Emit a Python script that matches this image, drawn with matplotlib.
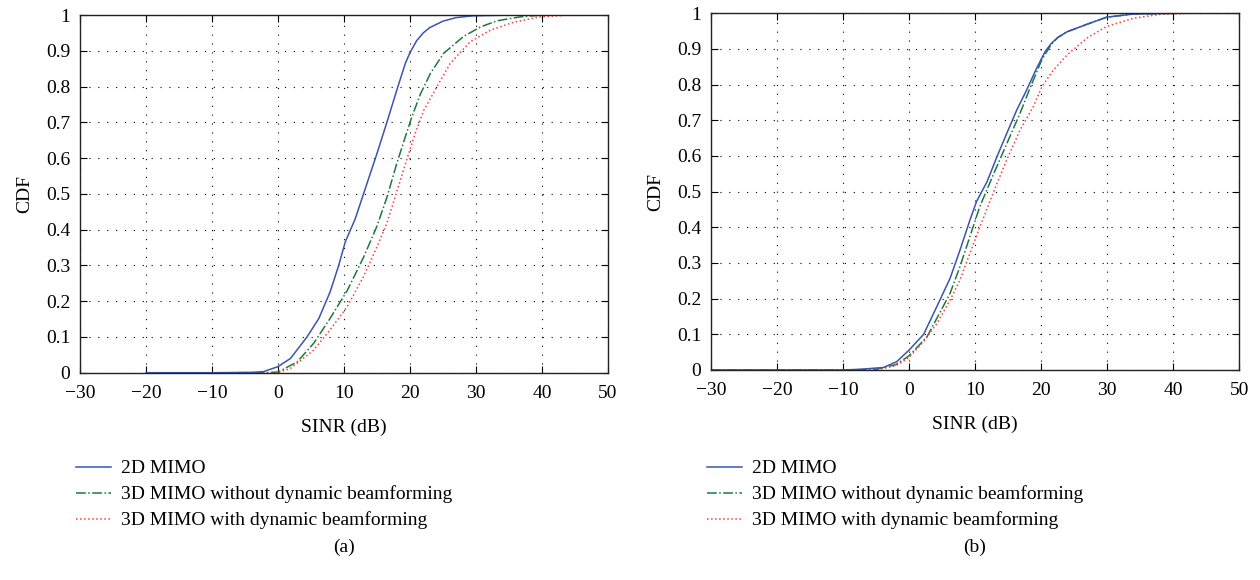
import matplotlib.pyplot as plt
import numpy as np

plt.rcParams['font.family'] = ['Liberation Serif', 'DejaVu Serif']
plt.rcParams['axes.unicode_minus'] = True

# Data -----------------------------------------------------------
labels = ['2D MIMO', '3D MIMO without dynamic beamforming', '3D MIMO with dynamic beamforming']

# panel (a)
a_2d_x = [-20, -10, -4, -2.2, 0, 1.9, 4.4, 6.2, 7.9, 9.2, 10.2, 11.7, 13.5, 15, 16.5, 18, 19.3, 20.0, 21.0, 22.0, 23.0, 25.0, 27.0, 29.6, 35, 50]
a_2d_y = [0, 0, 0.001, 0.003, 0.017, 0.04, 0.10, 0.152, 0.226, 0.30, 0.366, 0.43, 0.53, 0.613, 0.70, 0.79, 0.865, 0.895, 0.928, 0.950, 0.965, 0.983, 0.993, 0.998, 1.0, 1.0]
a_3d_x = [-6, -2, 0, 2.9, 5.4, 7.9, 10.5, 13, 15, 16.5, 18, 19.3, 20.3, 21.6, 23.1, 25.1, 28.1, 30.7, 33.2, 36.7, 40, 50]
a_3d_y = [0, 0, 0.002, 0.03, 0.082, 0.152, 0.23, 0.324, 0.41, 0.49, 0.585, 0.66, 0.716, 0.78, 0.837, 0.893, 0.94, 0.967, 0.984, 0.995, 1.0, 1.0]
a_bf_x = [-6, 0, 1.9, 5.4, 7.9, 10.5, 13, 15, 16.5, 18, 19.5, 20.8, 22.1, 24.1, 26.1, 29.1, 32.2, 35.7, 39.7, 44, 50]
a_bf_y = [0, 0, 0.012, 0.063, 0.12, 0.185, 0.27, 0.352, 0.418, 0.506, 0.595, 0.67, 0.734, 0.80, 0.865, 0.925, 0.958, 0.98, 0.995, 1.0, 1.0]

# panel (b)
b_2d_x = [-30, -10, -7.4, -3.9, -1.9, 0, 2.2, 4.2, 6.2, 7.7, 9.2, 10.2, 11.8, 13.3, 14.8, 16.3, 17.8, 19.3, 20.6, 21.5, 22.5, 23.9, 26.9, 29.9, 34, 40, 50]
b_2d_y = [0, 0, 0.002, 0.007, 0.023, 0.056, 0.10, 0.178, 0.257, 0.336, 0.42, 0.472, 0.528, 0.598, 0.664, 0.729, 0.785, 0.846, 0.893, 0.915, 0.932, 0.948, 0.969, 0.989, 0.998, 1.0, 1.0]
b_3d_x = [-30, -10, -5, -2, 0, 2.7, 4.2, 6.2, 7.7, 9.2, 10.7, 12.8, 14.8, 16.8, 18.3, 20.1, 21.5, 22.5, 23.9, 26.9, 29.9, 34, 40, 50]
b_3d_y = [0, 0, 0.002, 0.015, 0.04, 0.093, 0.145, 0.215, 0.29, 0.374, 0.458, 0.55, 0.635, 0.72, 0.79, 0.87, 0.912, 0.932, 0.948, 0.969, 0.989, 0.998, 1.0, 1.0]
b_bf_x = [-30, -10, -5, -2, 0, 2.2, 4.2, 6.2, 7.7, 9.2, 10.7, 12.8, 14.8, 16.8, 18.8, 20.1, 21.8, 23.9, 26.9, 29.9, 34, 38, 42, 50]
b_bf_y = [0, 0, 0.0, 0.012, 0.035, 0.08, 0.13, 0.196, 0.252, 0.327, 0.40, 0.50, 0.59, 0.673, 0.738, 0.794, 0.84, 0.883, 0.93, 0.963, 0.986, 0.997, 1.0, 1.0]

x_ticks = [-30, -20, -10, 0, 10, 20, 30, 40, 50]
y_ticks = [0, 0.1, 0.2, 0.3, 0.4, 0.5, 0.6, 0.7, 0.8, 0.9, 1]
y_ticklabels = ['0', '0.1', '0.2', '0.3', '0.4', '0.5', '0.6', '0.7', '0.8', '0.9', '1']

c_blue = '#3a55b0'
c_green = '#1e7a3c'
c_red = '#ff3b3b'

fig = plt.figure(figsize=(12.6, 5.8), dpi=100)

panels = [
    ([0.0635, 0.3574, 0.419, 0.6166], (a_2d_x, a_2d_y), (a_3d_x, a_3d_y), (a_bf_x, a_bf_y), '(a)', 0.0635),
    ([0.5643, 0.3621, 0.4193, 0.6150], (b_2d_x, b_2d_y), (b_3d_x, b_3d_y), (b_bf_x, b_bf_y), '(b)', 0.5643),
]

for rect, s2d, s3d, sbf, cap, left in panels:
    ax = fig.add_axes(rect)
    l3d, = ax.plot(s3d[0], s3d[1], color=c_green, lw=1.1, ls='-.', label=labels[1])
    lbf, = ax.plot(sbf[0], sbf[1], color=c_red, lw=1.1, ls=':', label=labels[2])
    l2d, = ax.plot(s2d[0], s2d[1], color=c_blue, lw=1.1, ls='-', label=labels[0])
    ax.set_xlim(-30, 50)
    ax.set_ylim(0, 1)
    ax.set_xticks(x_ticks)
    ax.set_yticks(y_ticks)
    ax.set_yticklabels(y_ticklabels)
    ax.tick_params(direction='in', top=True, right=True, labelsize=14, length=5, width=0.8)
    ax.tick_params(axis='x', pad=9)
    ax.tick_params(axis='y', pad=7)
    ax.grid(True, color='black', ls=(0, (1, 7)), lw=0.8)
    for sp in ax.spines.values():
        sp.set_linewidth(1.0)
        sp.set_color('#222222')
    ax.set_xlabel('SINR (dB)', fontsize=14, labelpad=12)
    ax.set_ylabel('CDF', fontsize=14, labelpad=9)

    fig.legend(handles=[l2d, l3d, lbf], loc='upper left',
               bbox_to_anchor=(left - 0.009, 1 - 452 / 580), frameon=False,
               fontsize=14, handlelength=1.8, handletextpad=0.5,
               labelspacing=0.42, borderaxespad=0)
    fig.text(left + 0.419 / 2, 1 - 547 / 580, cap, ha='center', va='center', fontsize=14)

plt.savefig('out.png', dpi=100)
